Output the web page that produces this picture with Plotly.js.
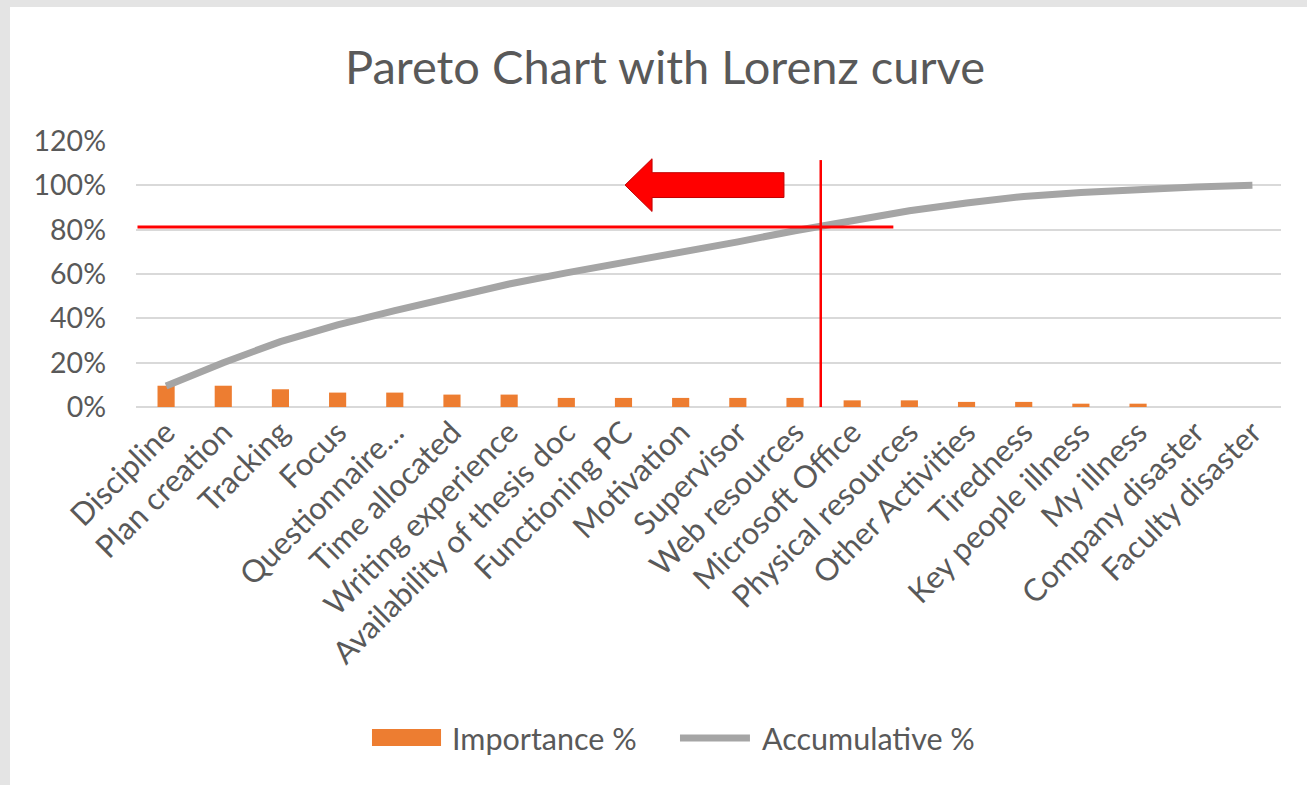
<!DOCTYPE html>
<html><head><meta charset="utf-8">
<script src="https://cdn.plot.ly/plotly-3.0.1.min.js"></script>
<style>
html,body{margin:0;padding:0;background:#E4E4E4;width:1307px;height:785px;overflow:hidden;}
#chart{position:absolute;left:10px;top:7px;width:1297px;height:778px;background:#fff;}
</style></head><body><div id="chart"></div>
<script>
const categories = ["Discipline","Plan creation","Tracking","Focus","Questionnaire…","Time allocated","Writing experience","Availability of thesis doc","Functioning PC","Motivation","Supervisor","Web resources","Microsoft Office","Physical resources","Other Activities","Tiredness","Key people illness","My illness","Company disaster","Faculty disaster"];
const importancePct = [9.6,9.6,8.0,6.5,6.5,5.6,5.6,4.1,4.1,4.1,4.1,4.1,3.0,3.0,2.3,2.3,1.5,1.5,0,0];
const accumulativePct = [9.5,20,29.5,37,43.5,49.5,55.5,60.5,65,69.5,74.5,79.5,84,88.5,92,95,96.8,98.3,99.3,100];
const yTicks = [0,20,40,60,80,100,120];
const yTickText = ["0%","20%","40%","60%","80%","100%","120%"];
const seriesNames = ["Importance %","Accumulative %"];
const titleText = "Pareto Chart with Lorenz curve";

const FONT = "Lato, 'Open Sans', sans-serif";
const TXT = "#595959";

const traces = [
  {type:"bar", x:categories, y:importancePct, name:seriesNames[0],
   marker:{color:"#ED7D31", line:{width:0}}, showlegend:false, hoverinfo:"x+y"},
  {type:"scatter", mode:"lines", x:categories, y:accumulativePct, name:seriesNames[1],
   line:{color:"#A5A5A5", width:7}, showlegend:false}
];

const shapes = [
  {type:"line", xref:"x", yref:"y", x0:-0.5, x1:12.72, y0:81.2, y1:81.2, line:{color:"#FF0000", width:3}},
  {type:"line", xref:"x", yref:"y", x0:11.45, x1:11.45, y0:0, y1:111.4, line:{color:"#FF0000", width:2.5}},
  {type:"path", xref:"paper", yref:"y",
   path:"M 0.4271,100.1 L 0.4507,112.0 L 0.4507,105.7 L 0.5659,105.7 L 0.5659,94.5 L 0.4507,94.5 L 0.4507,88.2 Z",
   fillcolor:"#FF0000", line:{color:"#C00000", width:1}},
  {type:"rect", xref:"paper", yref:"paper", x0:0.2061, x1:0.2664, y0:-1.2744, y1:-1.2105,
   fillcolor:"#ED7D31", line:{width:0}},
  {type:"line", xref:"paper", yref:"paper", x0:0.4751, x1:0.5362, y0:-1.2444, y1:-1.2444,
   line:{color:"#A5A5A5", width:7}}
];

const annotations = [
  {xref:"paper", yref:"paper", x:0.2742, y:-1.2444, xanchor:"left", yanchor:"middle", showarrow:false,
   text:seriesNames[0], font:{family:FONT, size:30.5, color:TXT}},
  {xref:"paper", yref:"paper", x:0.545, y:-1.2444, xanchor:"left", yanchor:"middle", showarrow:false,
   text:seriesNames[1], font:{family:FONT, size:30.5, color:TXT}}
];

const layout = {
  width:1297, height:778,
  margin:{l:126, r:26, t:134, b:378},
  paper_bgcolor:"#FFFFFF", plot_bgcolor:"#FFFFFF",
  font:{family:FONT, color:TXT},
  title:{text:titleText, x:0.505, xref:"container", y:0.9216, yanchor:"middle", xanchor:"center",
         font:{family:FONT, size:47, color:TXT}},
  bargap:0.7,
  showlegend:false,
  xaxis:{type:"category", tickangle:-45, tickfont:{family:FONT, size:31, color:TXT},
         showgrid:false, showline:false, ticks:"", zeroline:false, automargin:false},
  yaxis:{range:[0,120], tickmode:"array", tickvals:yTicks, ticktext:yTickText, tickfont:{family:FONT, size:28.5, color:TXT},
         showgrid:true, gridcolor:"#D9D9D9", gridwidth:2, zeroline:true, zerolinecolor:"#D9D9D9", zerolinewidth:2,
         showline:false, ticks:"", ticklabelstandoff:29, automargin:false},
  shapes:shapes,
  annotations:annotations
};

Plotly.newPlot("chart", traces, layout, {displayModeBar:false, staticPlot:true});
</script>
</body></html>
